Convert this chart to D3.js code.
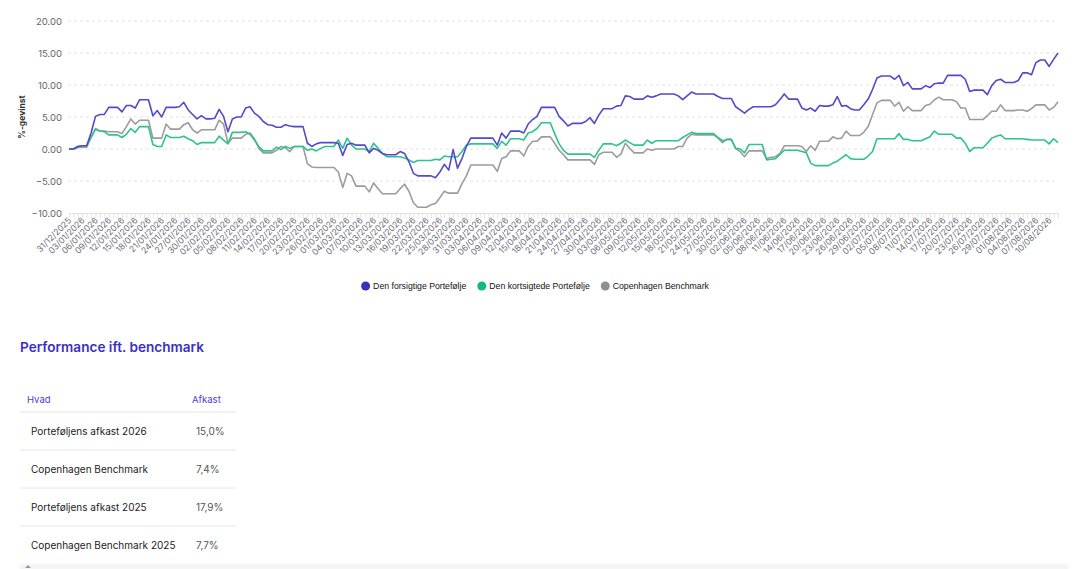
<!DOCTYPE html>
<html>
<head>
<meta charset="utf-8">
<script src="https://cdn.jsdelivr.net/npm/d3@7"></script>
<style>
  body { margin: 0; background: #fff; }
  svg { display: block; }
</style>
</head>
<body>
<div id="chart"></div>
<script>
// Daily performance (%) from 31/12/2025 to 12/08/2026
const startDate = new Date(2025, 11, 31);
const endDate = new Date(2026, 7, 12);

const seriesNames = ["Den forsigtige Portefølje", "Den kortsigtede Portefølje", "Copenhagen Benchmark"];
const lineColors = ["#5249cc", "#30c28e", "#9c9c9c"];
const dotColors = ["#3a31b8", "#14b981", "#8c908e"];

const forsigtige = [
  0, 0, 0.4, 0.5, 0.5, 2.5, 5.1, 5.4, 5.4, 6.5,
  6.5, 6.5, 5.8, 6.8, 6.8, 6.4, 7.7, 7.7, 7.7, 5.2,
  6.0, 5.0, 6.5, 6.5, 6.5, 6.6, 7.3, 6.1, 5.4, 4.7,
  5.2, 4.7, 4.7, 4.8, 6.2, 5.1, 2.7, 4.7, 5.0, 5.0,
  6.4, 6.6, 5.6, 5.1, 4.3, 3.8, 3.7, 3.4, 3.4, 3.8,
  3.6, 3.5, 3.5, 3.5, 0.9, 0.4, 0.8, 1.0, 1.0, 1.0,
  1.0, 0.9, -1.0, 0.7, 0.9, 0.6, 0.6, 0.6, -0.6, 0.1,
  -0.2, -0.7, -0.9, -0.9, -0.9, -0.4, -0.7, -2.0, -3.8, -4.2,
  -4.2, -4.2, -4.2, -4.5, -3.6, -2.4, -3.3, -0.1, -3.0, -1.5,
  0.4, 1.7, 1.7, 1.7, 1.7, 1.7, 1.7, 0.6, 2.5, 1.7,
  2.8, 2.8, 2.8, 2.5, 3.9, 4.6, 5.1, 6.5, 6.5, 6.5,
  6.5, 5.1, 4.4, 3.6, 4.0, 4.0, 4.0, 4.3, 4.9, 4.0,
  5.3, 6.3, 6.3, 6.3, 6.7, 6.8, 8.3, 8.2, 7.8, 7.8,
  7.8, 8.3, 8.1, 8.3, 8.6, 8.6, 8.6, 8.6, 8.3, 7.7,
  8.3, 8.9, 8.6, 8.6, 8.6, 8.6, 8.6, 8.2, 7.9, 7.9,
  7.9, 6.6, 6.1, 5.6, 6.2, 6.6, 6.6, 6.6, 6.6, 6.6,
  6.9, 7.7, 8.6, 7.8, 7.8, 7.8, 6.4, 6.1, 6.4, 5.9,
  6.8, 6.7, 6.7, 6.9, 8.2, 6.7, 6.8, 6.3, 6.1, 6.1,
  6.9, 7.8, 9.3, 11.1, 11.4, 11.4, 11.4, 10.9, 11.5, 9.9,
  10.4, 9.4, 9.4, 9.4, 9.9, 9.6, 10.2, 10.3, 10.3, 11.5,
  11.5, 11.5, 11.5, 10.9, 9.0, 9.2, 9.2, 9.2, 8.5, 9.9,
  10.7, 10.9, 10.4, 10.4, 10.4, 10.7, 11.9, 11.9, 11.6, 13.5,
  13.9, 13.9, 12.9, 14.0, 15.0
];

const kortsigtede = [
  0, 0, 0.4, 0.5, 0.5, 1.8, 3.1, 2.8, 2.7, 2.2,
  2.2, 2.2, 1.8, 2.3, 3.2, 2.6, 3.5, 3.5, 3.5, 0.7,
  0.4, 0.4, 2.2, 1.8, 1.8, 1.8, 2.0, 1.6, 1.3, 0.7,
  1.0, 1.0, 1.0, 1.0, 2.0, 1.4, 0.8, 2.6, 2.6, 2.6,
  2.7, 2.3, 1.4, 0.4, -0.3, -0.3, -0.3, 0.3, -0.1, 0.4,
  0.1, 0.4, 0.4, 0.4, -0.2, 0, -0.3, 0.1, 0.4, 0.4,
  0.4, 1.4, 0.1, 1.7, 0.6, 0, 0, 0, -0.4, 0.9,
  0.1, -0.7, -1.2, -1.2, -1.2, -1.2, -1.4, -1.7, -2.1, -1.8,
  -1.8, -1.8, -1.8, -1.6, -1.7, -1.1, -1.2, -1.2, -1.2, -0.4,
  0.6, 0.8, 0.8, 0.8, 0.8, 0.8, 0.8, 0.1, 1.2, 0.6,
  1.6, 1.6, 1.6, 1.4, 2.5, 2.7, 3.2, 4.1, 4.1, 4.1,
  2.4, 0.8, -0.2, -0.8, -0.8, -0.8, -0.8, -0.8, -0.8, -1.3,
  -0.2, 0.8, 0.8, 0.8, 0.5, 0.9, 1.4, 1.0, 0.6, 0.6,
  0.6, 1.4, 0.9, 1.3, 1.3, 1.3, 1.3, 1.3, 1.3, 1.8,
  2.2, 2.6, 2.4, 2.4, 2.4, 2.4, 2.4, 1.8, 1.3, 1.5,
  1.5, 0.1, 0, -0.6, 0.7, 0.7, 0.7, 0.7, -1.7, -1.6,
  -1.5, -0.9, -0.2, -0.2, -0.2, -0.2, -0.4, -0.6, -2.2, -2.6,
  -2.6, -2.6, -2.6, -2.2, -1.9, -1.4, -0.9, -1.5, -1.6, -1.6,
  -1.6, -1.1, -0.4, 1.6, 1.6, 1.6, 1.6, 1.6, 2.4, 1.5,
  1.5, 1.3, 1.3, 1.3, 1.6, 1.9, 2.8, 2.3, 2.3, 2.3,
  2.3, 1.7, 1.7, 0.9, -0.4, 0.2, 0.2, 0.2, 0.9, 1.7,
  2.0, 2.2, 1.6, 1.6, 1.6, 1.6, 1.6, 1.5, 1.4, 1.4,
  1.4, 1.4, 0.8, 1.6, 1.0
];

const benchmark = [
  0, 0, 0.2, 0.3, 0.3, 1.8, 3.2, 2.8, 2.8, 2.7,
  2.7, 2.7, 2.4, 3.5, 4.7, 3.9, 4.5, 4.5, 4.5, 1.7,
  1.7, 1.7, 3.9, 3.1, 3.1, 3.1, 3.8, 4.1, 3.0, 2.5,
  3.0, 3.0, 3.0, 3.0, 4.5, 3.9, 0.9, 1.7, 1.7, 1.7,
  2.3, 2.5, 1.6, 0.1, -0.6, -0.6, -0.6, -0.2, 0.4, 0.2,
  -0.4, 0.4, 0.4, 0.4, -2.3, -2.8, -2.9, -2.9, -2.9, -2.9,
  -2.9, -3.6, -6.0, -3.8, -4.2, -5.8, -5.8, -5.8, -6.7, -5.3,
  -6.2, -7.0, -7.0, -7.0, -7.0, -6.2, -5.5, -6.6, -8.4, -9.1,
  -9.1, -9.1, -8.7, -8.5, -7.6, -6.6, -6.9, -6.9, -6.9, -5.4,
  -4.2, -2.5, -2.5, -2.5, -2.5, -2.5, -2.5, -3.5, -1.5, -1.2,
  -0.3, -0.3, -0.3, -1.1, 0.4, 1.2, 1.2, 1.9, 1.9, 1.9,
  0.9, -0.2, -0.9, -1.7, -1.7, -1.7, -1.7, -1.7, -1.7, -2.4,
  -0.9, -0.5, -0.5, -0.5, -1.3, -0.8, 0.9, 0.1, -0.6, -0.6,
  -0.6, 0, -0.2, 0, 0, 0, 0, 0, 0.4, 0.4,
  1.7, 2.3, 2.2, 2.2, 2.2, 2.2, 2.2, 1.7, 1.0, 1.5,
  1.5, 0.1, -0.4, -1.2, -0.3, -0.3, -0.3, -0.3, -1.5, -1.3,
  -1.2, -0.7, 0.5, 0.5, 0.5, 0.5, 0.4, -0.4, 0.5, -0.2,
  1.2, 1.2, 1.2, 1.9, 1.6, 1.7, 2.8, 2.1, 2.1, 2.1,
  2.6, 3.5, 5.4, 7.2, 7.6, 7.6, 7.6, 6.7, 7.3, 5.9,
  6.6, 6.0, 6.0, 6.0, 6.8, 7.0, 7.7, 8.1, 7.7, 7.7,
  7.7, 7.4, 6.4, 6.4, 4.6, 4.6, 4.6, 4.6, 5.2, 5.9,
  5.9, 6.9, 6.0, 6.0, 6.0, 6.1, 6.1, 5.9, 6.3, 6.9,
  6.9, 6.9, 6.1, 6.5, 7.4
];

const yTicks = [-10, -5, 0, 5, 10, 15, 20];

const tableHeader = ["Hvad", "Afkast"];
const tableRows = [
  ["Porteføljens afkast 2026", "15,0%"],
  ["Copenhagen Benchmark", "7,4%"],
  ["Porteføljens afkast 2025", "17,9%"],
  ["Copenhagen Benchmark 2025", "7,7%"]
];

const W = 1088, H = 569;
const margin = { top: 21, right: 30, bottom: 356, left: 69 };
const width = W - margin.left - margin.right;
const height = H - margin.top - margin.bottom;

const dates = d3.timeDay.range(startDate, d3.timeDay.offset(endDate, 1));
const allSeries = [forsigtige, kortsigtede, benchmark];

const svgRoot = d3.select("#chart").append("svg")
    .attr("width", W)
    .attr("height", H);

const svg = svgRoot.append("g")
    .attr("transform", `translate(${margin.left},${margin.top})`);

const x = d3.scaleTime()
    .domain([startDate, endDate])
    .range([0, width]);

const y = d3.scaleLinear()
    .domain([-10, 20])
    .range([height, 0]);

// Grid lines
svg.append("g")
    .selectAll("line")
    .data(yTicks.filter(t => t !== -10))
    .enter()
    .append("line")
    .attr("x1", -1)
    .attr("x2", width)
    .attr("y1", d => y(d))
    .attr("y2", d => y(d))
    .attr("stroke", "#e3e3e3")
    .attr("stroke-dasharray", "3,3");

// Y axis
const yAxis = svg.append("g")
    .call(d3.axisLeft(y).tickValues(yTicks).tickFormat(d3.format(".2f")).tickSize(0).tickPadding(7));
yAxis.select(".domain").remove();
yAxis.selectAll("text")
    .attr("fill", "#666")
    .style("font-family", "Inter, 'Open Sans', sans-serif")
    .style("font-size", "9.5px");

svgRoot.append("text")
    .attr("transform", `translate(25,${margin.top + y(5)}) rotate(-90)`)
    .attr("text-anchor", "middle")
    .attr("fill", "#333")
    .style("font-family", "Inter, sans-serif")
    .style("font-size", "8.5px")
    .style("font-weight", "bold")
    .text("%-gevinst");

// X axis
const xAxis = svg.append("g")
    .attr("transform", `translate(0,${height})`)
    .call(d3.axisBottom(x).tickValues(dates).tickSize(5).tickFormat(""));
xAxis.select(".domain").attr("stroke", "#e0e0e0");
xAxis.selectAll("line").attr("stroke", "#e4e4e4");

const labelDates = dates.filter((d, i) => i % 3 === 0 && i <= 222);
const fmt = d3.timeFormat("%d/%m/%Y");
svg.append("g")
    .selectAll("text")
    .data(labelDates)
    .enter()
    .append("text")
    .attr("transform", d => `translate(${x(d) + 3},${height + 8}) rotate(-45)`)
    .attr("text-anchor", "end")
    .attr("fill", "#6b6b78")
    .style("font-family", "Inter, 'Open Sans', sans-serif")
    .style("font-size", "8.6px")
    .text(d => fmt(d));

// Lines
const line = d3.line()
    .x((d, i) => x(dates[i]))
    .y(d => y(d));

svg.selectAll(".series")
    .data(allSeries.map((s, i) => ({ values: s, color: lineColors[i] })).reverse())
    .enter()
    .append("path")
    .attr("class", "series")
    .attr("d", d => line(d.values))
    .attr("fill", "none")
    .attr("stroke", d => d.color)
    .attr("stroke-width", 1.6)
    .attr("stroke-linejoin", "round");

// Legend
const legend = svgRoot.append("g");
let lx = 0;
seriesNames.forEach((name, i) => {
    const g = legend.append("g");
    g.append("circle").attr("cx", 4.5).attr("cy", 0).attr("r", 4.5).attr("fill", dotColors[i]);
    const t = g.append("text")
        .attr("x", 12)
        .attr("y", 3.2)
        .attr("fill", "#111")
        .style("font-family", "'Liberation Sans', Arial, sans-serif")
        .style("font-size", "8.7px")
        .text(name);
    const w = 12 + t.node().getComputedTextLength();
    g.attr("transform", `translate(${lx},0)`);
    lx += w + 11;
});
const legendW = lx - 11;
legend.attr("transform", `translate(${(W - legendW) / 2 - 9},286)`);

// Title and table
svgRoot.append("text")
    .attr("x", 20)
    .attr("y", 352)
    .attr("fill", "#3b30c4")
    .style("font-family", "Inter, sans-serif")
    .style("font-size", "13.6px")
    .style("font-weight", "600")
    .text("Performance ift. benchmark");

const table = svgRoot.append("g");
table.append("text")
    .attr("x", 27).attr("y", 403)
    .attr("fill", "#4a40d0")
    .style("font-family", "Inter, sans-serif")
    .style("font-size", "9.5px")
    .text(tableHeader[0]);
table.append("text")
    .attr("x", 192).attr("y", 403)
    .attr("fill", "#4a40d0")
    .style("font-family", "Inter, sans-serif")
    .style("font-size", "9.5px")
    .text(tableHeader[1]);

const rowH = 38;
tableRows.forEach((r, i) => {
    const top = 412 + i * rowH;
    table.append("line")
        .attr("x1", 20).attr("x2", 236)
        .attr("y1", top).attr("y2", top)
        .attr("stroke", "#e6e6e6");
    table.append("text")
        .attr("x", 31).attr("y", top + 23)
        .attr("fill", "#222")
        .style("font-family", "Inter, sans-serif")
        .style("font-size", "10px")
        .text(r[0]);
    table.append("text")
        .attr("x", 196).attr("y", top + 23)
        .attr("fill", "#555")
        .style("font-family", "Inter, sans-serif")
        .style("font-size", "10px")
        .text(r[1]);
});

// faint scroll bar at bottom
svgRoot.append("rect")
    .attr("x", 20).attr("y", 564)
    .attr("width", 1048).attr("height", 5)
    .attr("fill", "#f5f5f5");
svgRoot.append("path")
    .attr("d", "M25,568 L28,565 L31,568 Z")
    .attr("fill", "#999");
</script>
</body>
</html>
